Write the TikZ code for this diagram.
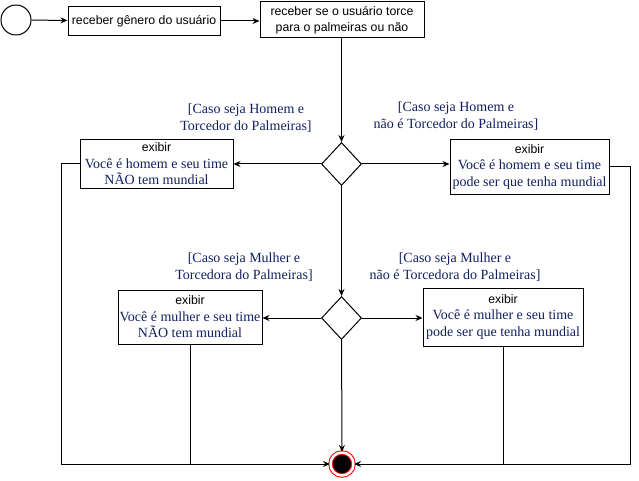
\documentclass[tikz,border=0pt]{standalone}
\usepackage{fontspec}
\setmainfont{Liberation Serif}
\setsansfont{Liberation Sans}
\usetikzlibrary{shapes.geometric, arrows.meta, positioning}
\definecolor{navy}{RGB}{16,32,96}

\begin{document}
\begin{tikzpicture}[x=1pt, y=-1pt, line width=1pt,
  startnode/.style={circle, draw, minimum size=30pt, inner sep=0pt},
  action/.style={rectangle, draw, align=center, inner sep=0pt, font=\sffamily\fontsize{12.3}{16}\selectfont},
  show/.style={rectangle, draw, align=center, inner sep=0pt, font=\fontsize{14}{16.5}\selectfont},
  decision/.style={diamond, draw, minimum width=40pt, minimum height=43pt, inner sep=0pt},
  finalnode/.style={circle, draw=red, double=white, double distance=2.5pt, fill=black, minimum size=23pt, inner sep=0pt},
  guard/.style={align=center, text=navy, font=\fontsize{14}{16.5}\selectfont},
  arrow/.style={-{Stealth[length=7pt, width=6pt]}},
]
\useasboundingbox (0,0) rectangle (639,481);

% Nodes
\node[startnode] (start) at (16,20) {};
\node[action, minimum width=152pt, minimum height=29pt] (gen) at (144,21) {receber gênero do usuário};
\node[action, minimum width=164pt, minimum height=36pt] (torce) at (342,20) {receber se o usuário torce\\para o palmeiras ou não};
\node[decision] (dec1) at (341.5,164) {};
\node[show, minimum width=153pt, minimum height=48pt] (hnao) at (156.5,164) {{\sffamily\fontsize{12.3}{14}\selectfont exibir}\\\textcolor{navy}{Você é homem e seu time}\\\textcolor{navy}{NÃO tem mundial}};
\node[show, minimum width=159pt, minimum height=54pt] (hpode) at (529.5,167) {{\sffamily\fontsize{12.3}{14}\selectfont exibir}\\\textcolor{navy}{Você é homem e seu time}\\\textcolor{navy}{pode ser que tenha mundial}};
\node[decision] (dec2) at (341.5,318) {};
\node[show, minimum width=144pt, minimum height=54pt] (mnao) at (190,317) {{\sffamily\fontsize{12.3}{14}\selectfont exibir}\\\textcolor{navy}{Você é mulher e seu time}\\\textcolor{navy}{NÃO tem mundial}};
\node[show, minimum width=160pt, minimum height=58pt] (mpode) at (503,317) {{\sffamily\fontsize{12.3}{14}\selectfont exibir}\\\textcolor{navy}{Você é mulher e seu time}\\\textcolor{navy}{pode ser que tenha mundial}};
\node[finalnode] (final) at (342,464) {};

% Guards
\node[guard] (g1) at (246,118) {[Caso seja Homem e\\Torcedor do Palmeiras]};
\node[guard] (g2) at (456,116) {[Caso seja Homem e\\não é Torcedor do Palmeiras]};
\node[guard] (g3) at (244,267) {[Caso seja Mulher e\\Torcedora do Palmeiras]};
\node[guard] (g4) at (455,267) {[Caso seja Mulher e\\não é Torcedora do Palmeiras]};

% Arrows
\draw[arrow] (start) -- (gen);
\draw[arrow] (gen.east) -- (gen.east -| torce.west);
\draw[arrow] (torce.south -| dec1) -- (dec1);
\draw[arrow] (dec1.west) -- (dec1.west -| hnao.east);
\draw[arrow] (dec1.east) -- (dec1.east -| hpode.west);
\draw[arrow] (dec1) -- (dec2);
\draw[arrow] (dec2.west) -- (dec2.west -| mnao.east);
\draw[arrow] (dec2.east) -- (dec2.east -| mpode.west);
\draw[arrow] (dec2) -- (final);
\draw[arrow] (hnao.west) -- ++(-18,0) |- (final.west);
\draw[arrow] (hpode.east) -- ++(21,0) |- (final.east);
\draw (mnao.south) -- (mnao.south |- final.center);
\draw (mpode.south) -- (mpode.south |- final.center);

\end{tikzpicture}
\end{document}
